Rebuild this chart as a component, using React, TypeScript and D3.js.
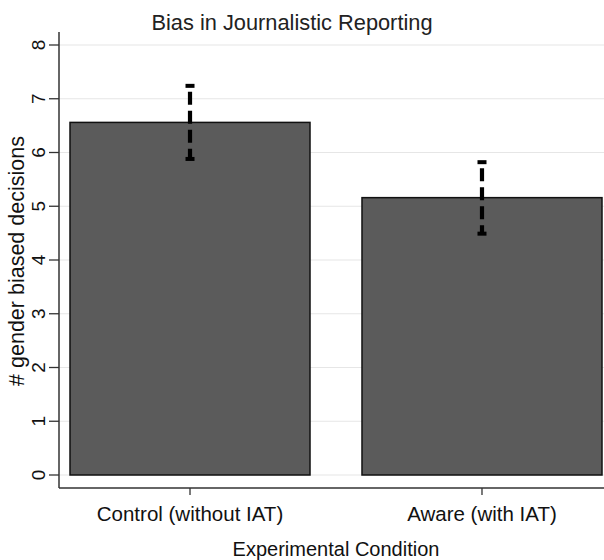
import React, { useEffect, useRef } from 'react';
import * as d3 from 'd3';

// values
const conditions = ['Control (without IAT)', 'Aware (with IAT)'];
const means = [6.56, 5.16];
const ciLow = [5.88, 4.49];
const ciHigh = [7.24, 5.82];
const yTicks = [0, 1, 2, 3, 4, 5, 6, 7, 8];

const chartTitle = 'Bias in Journalistic Reporting';
const xTitle = 'Experimental Condition';
const yTitle = '# gender biased decisions';

const FONT = '"Liberation Sans", Arial, Helvetica, sans-serif';

const App = () => {
  const ref = useRef<SVGSVGElement | null>(null);

  useEffect(() => {
    const width = 604;
    const svg = d3.select(ref.current);
    svg.selectAll('*').remove();

    const axisX = 59;   // left axis position
    const axisY = 488;  // bottom axis position
    const plotTop = 32;

    const x = d3.scaleBand<string>()
      .domain(conditions)
      .range([70, 602])
      .paddingInner(0.178)
      .paddingOuter(0);

    const y = d3.scaleLinear()
      .domain([0, 8])
      .range([475, 45]);

    // gridlines
    svg.append('g')
      .selectAll('line')
      .data(yTicks)
      .enter()
      .append('line')
      .attr('x1', axisX)
      .attr('x2', width)
      .attr('y1', d => y(d))
      .attr('y2', d => y(d))
      .attr('stroke', '#e6e6e6')
      .attr('stroke-width', 1.2);

    // bars
    svg.append('g')
      .selectAll('rect')
      .data(conditions)
      .enter()
      .append('rect')
      .attr('x', d => x(d)!)
      .attr('y', (d, i) => y(means[i]))
      .attr('width', x.bandwidth())
      .attr('height', (d, i) => y(0) - y(means[i]))
      .attr('fill', '#5b5b5b')
      .attr('stroke', '#111')
      .attr('stroke-width', 1.5);

    // error bars: dashed stem + caps
    const err = svg.append('g');
    conditions.forEach((c, i) => {
      const cx = x(c)! + x.bandwidth() / 2;
      const yHi = y(ciHigh[i]);
      const yLo = y(ciLow[i]);
      err.append('rect')
        .attr('x', cx - 4.5)
        .attr('y', yHi - 2)
        .attr('width', 9)
        .attr('height', 4)
        .attr('fill', '#000');
      err.append('line')
        .attr('x1', cx)
        .attr('x2', cx)
        .attr('y1', yHi + 2)
        .attr('y2', yLo)
        .attr('stroke', '#000')
        .attr('stroke-width', 4.2)
        .attr('stroke-dasharray', '13 6')
        .attr('stroke-dashoffset', 15);
      err.append('rect')
        .attr('x', cx - 4.5)
        .attr('y', yLo - 2)
        .attr('width', 9)
        .attr('height', 4)
        .attr('fill', '#000');
    });

    // axes lines
    svg.append('line')
      .attr('x1', axisX).attr('x2', axisX)
      .attr('y1', plotTop).attr('y2', axisY)
      .attr('stroke', '#333').attr('stroke-width', 1.5);
    svg.append('line')
      .attr('x1', axisX).attr('x2', width)
      .attr('y1', axisY).attr('y2', axisY)
      .attr('stroke', '#333').attr('stroke-width', 1.5);

    // y ticks + rotated labels
    const yt = svg.append('g');
    yt.selectAll('line')
      .data(yTicks)
      .enter()
      .append('line')
      .attr('x1', axisX - 10)
      .attr('x2', axisX)
      .attr('y1', d => y(d))
      .attr('y2', d => y(d))
      .attr('stroke', '#333')
      .attr('stroke-width', 1.3);
    yt.selectAll('text')
      .data(yTicks)
      .enter()
      .append('text')
      .attr('transform', d => `translate(45,${y(d)}) rotate(-90)`)
      .attr('text-anchor', 'middle')
      .style('font-family', FONT)
      .style('font-size', '19px')
      .attr('fill', '#111')
      .text(d => d);

    // x ticks + labels
    const xt = svg.append('g');
    xt.selectAll('line')
      .data(conditions)
      .enter()
      .append('line')
      .attr('x1', d => x(d)! + x.bandwidth() / 2)
      .attr('x2', d => x(d)! + x.bandwidth() / 2)
      .attr('y1', axisY)
      .attr('y2', axisY + 7)
      .attr('stroke', '#333')
      .attr('stroke-width', 1.3);
    xt.selectAll('text')
      .data(conditions)
      .enter()
      .append('text')
      .attr('x', d => x(d)! + x.bandwidth() / 2)
      .attr('y', 521)
      .attr('text-anchor', 'middle')
      .style('font-family', FONT)
      .style('font-size', '20.5px')
      .attr('fill', '#111')
      .text(d => d);

    // titles
    svg.append('text')
      .attr('x', 292)
      .attr('y', 30)
      .attr('text-anchor', 'middle')
      .style('font-family', FONT)
      .style('font-size', '21.8px')
      .attr('fill', '#222')
      .text(chartTitle);

    svg.append('text')
      .attr('x', 336)
      .attr('y', 556)
      .attr('text-anchor', 'middle')
      .style('font-family', FONT)
      .style('font-size', '20px')
      .attr('fill', '#111')
      .text(xTitle);

    svg.append('text')
      .attr('transform', `translate(24,261) rotate(-90)`)
      .attr('text-anchor', 'middle')
      .style('font-family', FONT)
      .style('font-size', '21.5px')
      .attr('fill', '#111')
      .text(yTitle);
  }, []);

  return (
    <svg
      ref={ref}
      width={604}
      height={560}
      style={{ position: 'absolute', left: 0, top: 0, background: '#fff' }}
    />
  );
};

export default App;
